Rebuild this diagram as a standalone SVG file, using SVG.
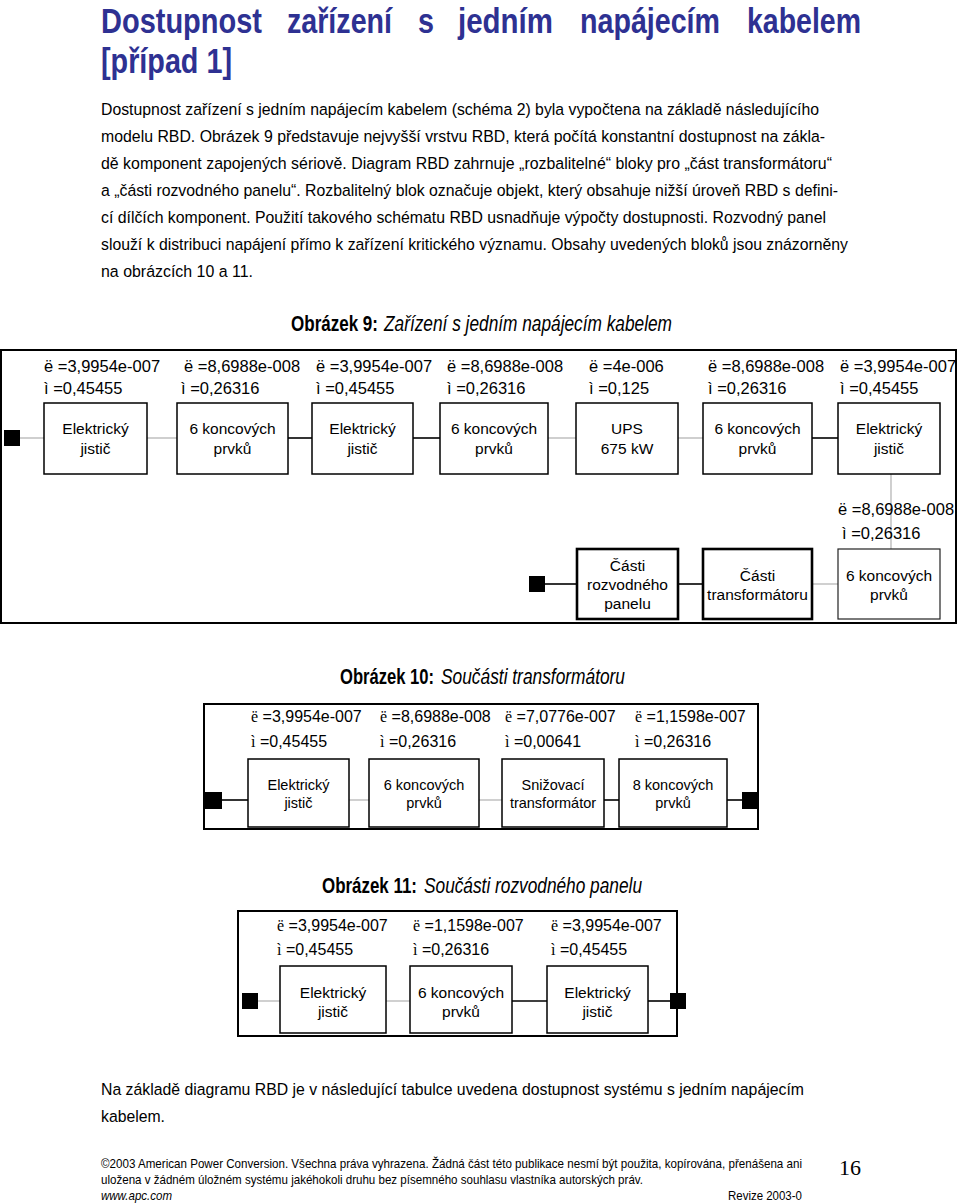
<svg xmlns="http://www.w3.org/2000/svg" width="960" height="1204" viewBox="0 0 960 1204">
<style>
text{font-family:"Liberation Sans",Arial,sans-serif;fill:#000}
.h{font-size:36px;font-weight:bold;fill:#2e3192}
.b{font-size:16.5px}
.lbl{font-size:16.5px}
.lbl2{font-size:16px}
.sf{font-family:"Liberation Serif","Times New Roman",serif}
.nt{font-size:15.5px;text-anchor:middle}
.nt2{font-size:14.5px;text-anchor:middle}
.tb{font-size:22px;font-weight:bold}
.ti{font-size:22px;font-style:italic}
.ft{font-size:12.5px}
.box{fill:#fff;stroke:#000;stroke-width:1.5}
.boxb{fill:#fff;stroke:#000;stroke-width:2.6}
.boxg{fill:#fff;stroke:#222;stroke-width:1.2}
.frame{fill:none;stroke:#000;stroke-width:2}
.cg{stroke:#b0b0b0;stroke-width:1.2;fill:none}
.cb{stroke:#000;stroke-width:1.6;fill:none}
.sq{fill:#000}
</style>

<!-- Heading -->
<g id="heading">
<text class="h" transform="translate(101,33) scale(0.8,1)" textLength="201.25" lengthAdjust="spacingAndGlyphs">Dostupnost</text>
<text class="h" transform="translate(287,33) scale(0.8,1)" textLength="131.25" lengthAdjust="spacingAndGlyphs">zařízení</text>
<text class="h" transform="translate(418,33) scale(0.8,1)" textLength="20" lengthAdjust="spacingAndGlyphs">s</text>
<text class="h" transform="translate(458,33) scale(0.8,1)" textLength="118.75" lengthAdjust="spacingAndGlyphs">jedním</text>
<text class="h" transform="translate(580,33) scale(0.8,1)" textLength="175" lengthAdjust="spacingAndGlyphs">napájecím</text>
<text class="h" transform="translate(747,33) scale(0.8,1)" textLength="142.5" lengthAdjust="spacingAndGlyphs">kabelem</text>
<text class="h" transform="translate(101,73) scale(0.8,1)" textLength="163.75" lengthAdjust="spacingAndGlyphs">[případ 1]</text>
</g>

<!-- Body -->
<g id="body">
<text class="b" transform="translate(101,115) scale(0.86,1)" textLength="834.9" lengthAdjust="spacingAndGlyphs">Dostupnost zařízení s jedním napájecím kabelem (schéma 2) byla vypočtena na základě následujícího</text>
<text class="b" transform="translate(101,142) scale(0.86,1)" textLength="841.9" lengthAdjust="spacingAndGlyphs">modelu RBD. Obrázek 9 představuje nejvyšší vrstvu RBD, která počítá konstantní dostupnost na zákla-</text>
<text class="b" transform="translate(101,169) scale(0.86,1)" textLength="850" lengthAdjust="spacingAndGlyphs">dě komponent zapojených sériově. Diagram RBD zahrnuje „rozbalitelné“ bloky pro „část transformátoru“</text>
<text class="b" transform="translate(101,196) scale(0.86,1)" textLength="857" lengthAdjust="spacingAndGlyphs">a „části rozvodného panelu“. Rozbalitelný blok označuje objekt, který obsahuje nižší úroveň RBD s defini-</text>
<text class="b" transform="translate(101,223) scale(0.86,1)" textLength="843" lengthAdjust="spacingAndGlyphs">cí dílčích komponent. Použití takového schématu RBD usnadňuje výpočty dostupnosti. Rozvodný panel</text>
<text class="b" transform="translate(101,250) scale(0.86,1)" textLength="868.6" lengthAdjust="spacingAndGlyphs">slouží k distribuci napájení přímo k zařízení kritického významu. Obsahy uvedených bloků jsou znázorněny</text>
<text class="b" transform="translate(101,277) scale(0.86,1)" textLength="176.7" lengthAdjust="spacingAndGlyphs">na obrázcích 10 a 11.</text>
</g>

<!-- Figure 9 -->
<text class="tb" transform="translate(291,331) scale(0.8,1)" textLength="108.75" lengthAdjust="spacingAndGlyphs">Obrázek 9:</text>
<text class="ti" transform="translate(384,331) scale(0.8,1)" textLength="360" lengthAdjust="spacingAndGlyphs">Zařízení s jedním napájecím kabelem</text>
<rect class="frame" x="1" y="350" width="955" height="273"/>

<g id="fig9-connectors">
<line class="cg" x1="20" y1="438" x2="44" y2="438"/>
<line class="cg" x1="147" y1="438" x2="177" y2="438"/>
<line class="cb" x1="288" y1="438" x2="312" y2="438"/>
<line class="cb" x1="413" y1="438" x2="440" y2="438"/>
<line class="cg" x1="548" y1="438" x2="576" y2="438"/>
<line class="cg" x1="678" y1="438" x2="703" y2="438"/>
<line class="cb" x1="812" y1="438" x2="838" y2="438"/>
<line class="cg" x1="891" y1="474" x2="891" y2="549"/>
<line class="cg" x1="812" y1="584" x2="838" y2="584"/>
<line class="cb" x1="678" y1="584" x2="703" y2="584"/>
<line class="cb" x1="545" y1="584" x2="577" y2="584"/>
</g>

<rect id="fig9-start" class="sq" x="4" y="430" width="16" height="16"/>
<rect id="fig9-end" class="sq" x="529" y="576" width="16" height="16"/>

<g id="f9-n1">
<text class="lbl" x="44" y="372">ë =3,9954e-007</text>
<text class="lbl" x="44" y="394">ì =0,45455</text>
<rect class="box" x="44" y="403" width="103" height="71"/>
<text class="nt" x="95.5" y="434">Elektrický</text>
<text class="nt" x="95.5" y="454">jistič</text>
</g>
<g id="f9-n2">
<text class="lbl" x="184" y="372">ë =8,6988e-008</text>
<text class="lbl" x="181" y="394">ì =0,26316</text>
<rect class="box" x="177" y="403" width="111" height="71"/>
<text class="nt" x="232.5" y="434">6 koncových</text>
<text class="nt" x="232.5" y="454">prvků</text>
</g>
<g id="f9-n3">
<text class="lbl" x="316" y="372">ë =3,9954e-007</text>
<text class="lbl" x="316" y="394">ì =0,45455</text>
<rect class="box" x="312" y="403" width="101" height="71"/>
<text class="nt" x="362.5" y="434">Elektrický</text>
<text class="nt" x="362.5" y="454">jistič</text>
</g>
<g id="f9-n4">
<text class="lbl" x="447" y="372">ë =8,6988e-008</text>
<text class="lbl" x="447" y="394">ì =0,26316</text>
<rect class="box" x="440" y="403" width="108" height="71"/>
<text class="nt" x="494" y="434">6 koncových</text>
<text class="nt" x="494" y="454">prvků</text>
</g>
<g id="f9-n5">
<text class="lbl" x="589" y="372">ë =4e-006</text>
<text class="lbl" x="589" y="394">ì =0,125</text>
<rect class="box" x="576" y="403" width="102" height="71"/>
<text class="nt" x="627" y="434">UPS</text>
<text class="nt" x="627" y="454">675 kW</text>
</g>
<g id="f9-n6">
<text class="lbl" x="708" y="372">ë =8,6988e-008</text>
<text class="lbl" x="708" y="394">ì =0,26316</text>
<rect class="box" x="703" y="403" width="109" height="71"/>
<text class="nt" x="757.5" y="434">6 koncových</text>
<text class="nt" x="757.5" y="454">prvků</text>
</g>
<g id="f9-n7">
<text class="lbl" x="840" y="372">ë =3,9954e-007</text>
<text class="lbl" x="840" y="394">ì =0,45455</text>
<rect class="box" x="838" y="403" width="102" height="71"/>
<text class="nt" x="889" y="434">Elektrický</text>
<text class="nt" x="889" y="454">jistič</text>
</g>
<g id="f9-n8">
<text class="lbl" x="838" y="515">ë =8,6988e-008</text>
<text class="lbl" x="842" y="539">ì =0,26316</text>
<rect class="boxg" x="838" y="549" width="102" height="70"/>
<text class="nt" x="889" y="581">6 koncových</text>
<text class="nt" x="889" y="600">prvků</text>
</g>
<g id="f9-n9">
<rect class="boxb" x="703" y="549" width="109" height="70"/>
<text class="nt" x="757.5" y="581">Části</text>
<text class="nt" x="757.5" y="600">transformátoru</text>
</g>
<g id="f9-n10">
<rect class="boxb" x="577" y="549" width="101" height="70"/>
<text class="nt" x="627.5" y="571">Části</text>
<text class="nt" x="627.5" y="590">rozvodného</text>
<text class="nt" x="627.5" y="609">panelu</text>
</g>

<!-- Figure 10 -->
<text class="tb" transform="translate(340,684) scale(0.8,1)" textLength="117.5" lengthAdjust="spacingAndGlyphs">Obrázek 10:</text>
<text class="ti" transform="translate(441,684) scale(0.8,1)" textLength="230" lengthAdjust="spacingAndGlyphs">Součásti transformátoru</text>
<rect class="frame" x="204" y="704" width="554" height="125"/>

<g id="fig10-connectors">
<line class="cb" x1="222" y1="800" x2="248" y2="800"/>
<line class="cg" x1="349" y1="800" x2="369" y2="800"/>
<line class="cg" x1="479" y1="800" x2="502" y2="800"/>
<line class="cb" x1="604" y1="800" x2="619" y2="800"/>
<line class="cb" x1="727" y1="800" x2="742" y2="800"/>
</g>
<rect id="fig10-start" class="sq" x="205" y="792" width="17" height="17"/>
<rect id="fig10-end" class="sq" x="742" y="792" width="17" height="17"/>

<g id="f10-n1">
<text class="lbl2" x="251" y="722"><tspan class="sf">ë</tspan> =3,9954e-007</text>
<text class="lbl2" x="251" y="747"><tspan class="sf">ì</tspan> =0,45455</text>
<rect class="box" x="248" y="759" width="101" height="68"/>
<text class="nt2" x="298.5" y="790">Elektrický</text>
<text class="nt2" x="298.5" y="808">jistič</text>
</g>
<g id="f10-n2">
<text class="lbl2" x="380" y="722"><tspan class="sf">ë</tspan> =8,6988e-008</text>
<text class="lbl2" x="380" y="747"><tspan class="sf">ì</tspan> =0,26316</text>
<rect class="box" x="369" y="759" width="110" height="68"/>
<text class="nt2" x="424" y="790">6 koncových</text>
<text class="nt2" x="424" y="808">prvků</text>
</g>
<g id="f10-n3">
<text class="lbl2" x="505" y="722"><tspan class="sf">ë</tspan> =7,0776e-007</text>
<text class="lbl2" x="505" y="747"><tspan class="sf">ì</tspan> =0,00641</text>
<rect class="box" x="502" y="759" width="102" height="68"/>
<text class="nt2" x="553" y="790">Snižovací</text>
<text class="nt2" x="553" y="808">transformátor</text>
</g>
<g id="f10-n4">
<text class="lbl2" x="635" y="722"><tspan class="sf">ë</tspan> =1,1598e-007</text>
<text class="lbl2" x="635" y="747"><tspan class="sf">ì</tspan> =0,26316</text>
<rect class="box" x="619" y="759" width="108" height="68"/>
<text class="nt2" x="673" y="790">8 koncových</text>
<text class="nt2" x="673" y="808">prvků</text>
</g>

<!-- Figure 11 -->
<text class="tb" transform="translate(322,893) scale(0.8,1)" textLength="118.75" lengthAdjust="spacingAndGlyphs">Obrázek 11:</text>
<text class="ti" transform="translate(424,893) scale(0.8,1)" textLength="272.5" lengthAdjust="spacingAndGlyphs">Součásti rozvodného panelu</text>
<rect class="frame" x="238" y="911" width="439" height="125"/>

<g id="fig11-connectors">
<line class="cg" x1="258" y1="1001" x2="280" y2="1001"/>
<line class="cg" x1="386" y1="1001" x2="410" y2="1001"/>
<line class="cb" x1="512" y1="1001" x2="547" y2="1001"/>
<line class="cb" x1="648" y1="1001" x2="670" y2="1001"/>
</g>
<rect id="fig11-start" class="sq" x="242" y="993" width="16" height="16"/>
<rect id="fig11-end" class="sq" x="670" y="993" width="16" height="16"/>

<g id="f11-n1">
<text class="lbl2" x="277" y="931"><tspan class="sf">ë</tspan> =3,9954e-007</text>
<text class="lbl2" x="277" y="955"><tspan class="sf">ì</tspan> =0,45455</text>
<rect class="box" x="280" y="966" width="106" height="67"/>
<text class="nt" x="333" y="998">Elektrický</text>
<text class="nt" x="333" y="1017">jistič</text>
</g>
<g id="f11-n2">
<text class="lbl2" x="413" y="931"><tspan class="sf">ë</tspan> =1,1598e-007</text>
<text class="lbl2" x="413" y="955"><tspan class="sf">ì</tspan> =0,26316</text>
<rect class="box" x="410" y="966" width="102" height="67"/>
<text class="nt" x="461" y="998">6 koncových</text>
<text class="nt" x="461" y="1017">prvků</text>
</g>
<g id="f11-n3">
<text class="lbl2" x="551" y="931"><tspan class="sf">ë</tspan> =3,9954e-007</text>
<text class="lbl2" x="551" y="955"><tspan class="sf">ì</tspan> =0,45455</text>
<rect class="box" x="547" y="966" width="101" height="67"/>
<text class="nt" x="597.5" y="998">Elektrický</text>
<text class="nt" x="597.5" y="1017">jistič</text>
</g>

<!-- Closing paragraph -->
<g id="closing">
<text class="b" transform="translate(101,1095) scale(0.86,1)" textLength="817.4" lengthAdjust="spacingAndGlyphs">Na základě diagramu RBD je v následující tabulce uvedena dostupnost systému s jedním napájecím</text>
<text class="b" transform="translate(101,1122) scale(0.86,1)" textLength="74.4" lengthAdjust="spacingAndGlyphs">kabelem.</text>
</g>

<!-- Footer -->
<g id="footer">
<text class="ft" transform="translate(101,1168) scale(0.85,1)" textLength="824.7" lengthAdjust="spacingAndGlyphs">©2003 American Power Conversion. Všechna práva vyhrazena. Žádná část této publikace nesmí být použita, kopírována, přenášena ani</text>
<text class="ft" transform="translate(101,1184) scale(0.85,1)" textLength="637.6" lengthAdjust="spacingAndGlyphs">uložena v žádném úložném systému jakéhokoli druhu bez písemného souhlasu vlastníka autorských práv.</text>
<text class="ft" transform="translate(101,1200) scale(0.85,1)" font-style="italic" textLength="83.5" lengthAdjust="spacingAndGlyphs">www.apc.com</text>
<text class="ft" transform="translate(728,1200) scale(0.85,1)" textLength="87" lengthAdjust="spacingAndGlyphs">Revize 2003-0</text>
<text x="839" y="1175" style="font-family:'Liberation Serif','Times New Roman',serif;font-size:22px">16</text>
</g>
</svg>
